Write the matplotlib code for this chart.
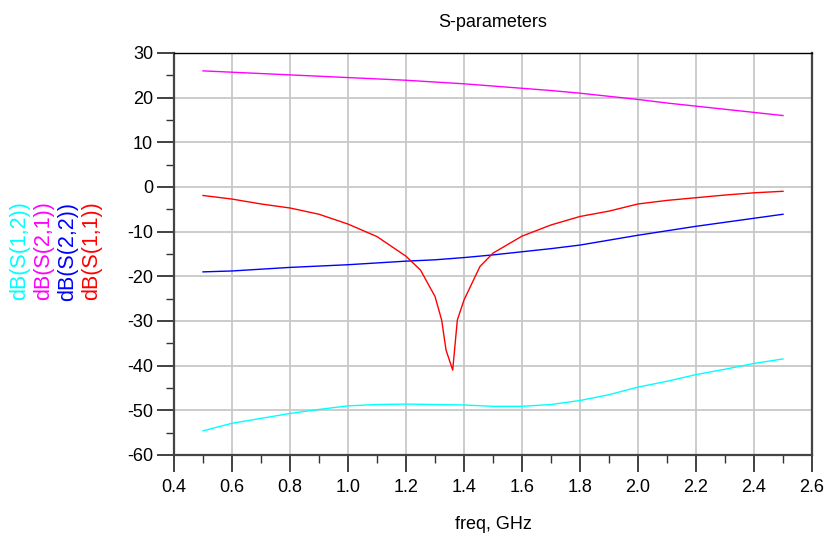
import matplotlib
matplotlib.use("Agg")
import matplotlib.pyplot as plt
from matplotlib.ticker import MultipleLocator

plt.rcParams['font.family'] = ['Liberation Sans', 'DejaVu Sans']

freq = [0.5, 0.6, 0.7, 0.8, 0.9, 1.0, 1.1, 1.2, 1.3, 1.4, 1.5,
        1.6, 1.7, 1.8, 1.9, 2.0, 2.1, 2.2, 2.3, 2.4, 2.5]
s21 = [26.0, 25.7, 25.4, 25.1, 24.8, 24.5, 24.2, 23.9, 23.5, 23.1, 22.6,
       22.1, 21.6, 21.0, 20.3, 19.6, 18.8, 18.1, 17.4, 16.7, 16.0]
s22 = [-19.0, -18.8, -18.4, -18.0, -17.7, -17.4, -17.0, -16.6, -16.3, -15.8, -15.2,
       -14.5, -13.8, -13.0, -11.9, -10.8, -9.8, -8.8, -7.9, -7.0, -6.1]
s12 = [-54.6, -52.9, -51.8, -50.7, -49.8, -49.0, -48.7, -48.6, -48.7, -48.8, -49.1,
       -49.1, -48.7, -47.8, -46.5, -44.8, -43.5, -42.0, -40.8, -39.5, -38.5]

freq11 = [0.5, 0.6, 0.7, 0.8, 0.9, 1.0, 1.1, 1.2, 1.25, 1.3, 1.323, 1.338, 1.361,
          1.377, 1.4, 1.455, 1.5, 1.6, 1.7, 1.8, 1.9, 2.0, 2.1, 2.2, 2.3, 2.4, 2.5]
s11 = [-1.9, -2.7, -3.8, -4.7, -6.1, -8.3, -11.1, -15.5, -18.6, -24.5, -29.8, -36.5, -41.0,
       -29.8, -25.3, -17.8, -14.8, -11.0, -8.5, -6.6, -5.4, -3.8, -3.0, -2.4, -1.8, -1.3, -0.96]

xticks = [0.4, 0.6, 0.8, 1.0, 1.2, 1.4, 1.6, 1.8, 2.0, 2.2, 2.4, 2.6]
yticks = [30, 20, 10, 0, -10, -20, -30, -40, -50, -60]

fig = plt.figure(figsize=(8.28, 5.45), dpi=100)
ax = fig.add_axes([174/828, 1 - 455/545, (812-174)/828, (455-53)/545])

lw = 1.0
ax.plot(freq, s21, color='#ff00ff', lw=lw)
ax.plot(freq, s22, color='#0000ff', lw=lw)
ax.plot(freq11, s11, color='#ff0000', lw=lw)
ax.plot(freq, s12, color='#00ffff', lw=lw)

ax.set_xlim(0.4, 2.6)
ax.set_ylim(-60, 30)
ax.set_xticks(xticks)
ax.set_xticklabels([f"{v:.1f}" for v in xticks])
ax.set_yticks(yticks)
ax.set_yticklabels([str(v) for v in yticks])
ax.xaxis.set_minor_locator(MultipleLocator(0.1))
ax.yaxis.set_minor_locator(MultipleLocator(5))

ax.grid(True, which='major', color='#c8c8c8', lw=1.3)
ax.set_axisbelow(True)

ax.tick_params(axis='both', which='major', direction='out', length=12, width=1.3,
               color='#333333', labelsize=13)
ax.tick_params(axis='both', which='minor', direction='out', length=6, width=1.0,
               color='#333333')
ax.tick_params(axis='x', which='major', pad=5)
ax.tick_params(axis='y', which='major', pad=3)

for side in ['left', 'bottom', 'right']:
    ax.spines[side].set_color('#444444')
    ax.spines[side].set_linewidth(1.6)
ax.spines['top'].set_color('#000000')
ax.spines['top'].set_linewidth(1.0)

ax.set_title('S-parameters', fontsize=13, pad=19)
ax.set_xlabel('freq, GHz', fontsize=13, labelpad=15)

labels = [('dB(S(1,2))', '#00ffff', 20), ('dB(S(2,1))', '#ff00ff', 44),
          ('dB(S(2,2))', '#0000ff', 68), ('dB(S(1,1))', '#ff0000', 92)]
for txt, col, xp in labels:
    fig.text(xp/828, 1 - 251/545, txt, color=col, rotation=90, fontsize=15.5,
             ha='center', va='center')

fig.savefig('out.png', dpi=100)
